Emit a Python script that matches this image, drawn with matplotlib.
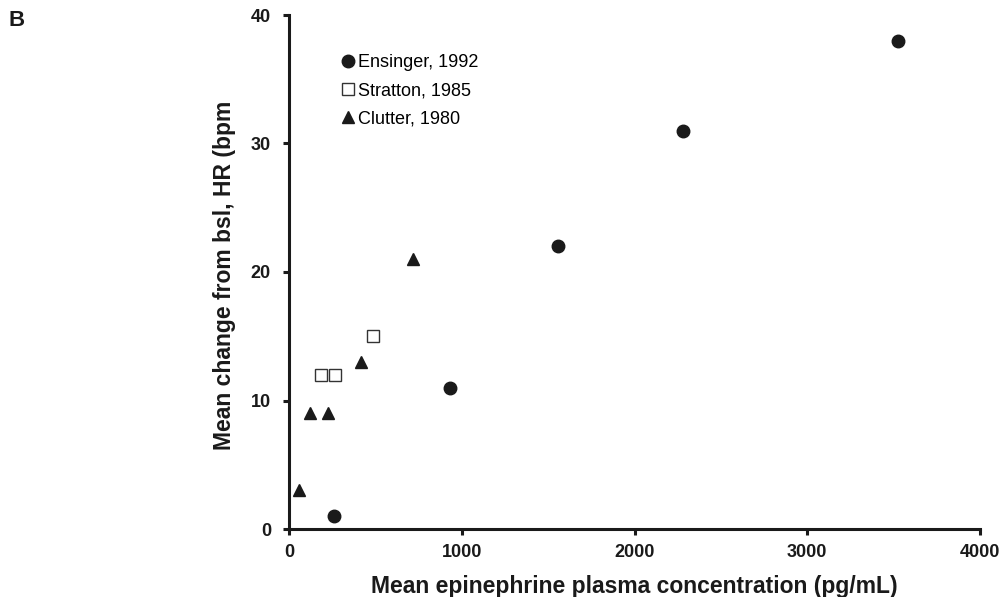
import matplotlib
matplotlib.use("Agg")
import matplotlib.pyplot as plt

plt.rcParams['font.family'] = ['Liberation Sans', 'DejaVu Sans']

# values
ensinger_x = [262, 934, 1557, 2283, 3524]
ensinger_y = [1, 11, 22, 31, 38]
stratton_x = [185, 266, 488]
stratton_y = [12, 12, 15]
clutter_x = [60, 120, 226, 417, 720]
clutter_y = [3, 9, 9, 13, 21]
labels = ["Ensinger, 1992", "Stratton, 1985", "Clutter, 1980"]

fig = plt.figure(figsize=(10.01, 5.97), dpi=100)
ax = fig.add_axes([289 / 1001, 1 - 529 / 597, (980 - 289) / 1001, (529 - 15) / 597])

ax.plot(ensinger_x, ensinger_y, 'o', color='#1a1a1a', markersize=9, label=labels[0], clip_on=False)
ax.plot(stratton_x, stratton_y, 's', markerfacecolor='white', markeredgecolor='#333333',
        markeredgewidth=1.0, markersize=8.5, label=labels[1], clip_on=False)
ax.plot(clutter_x, clutter_y, '^', color='#1a1a1a', markersize=9, label=labels[2], clip_on=False)

ax.set_xlim(0, 4000)
ax.set_ylim(0, 40)
ax.set_xticks([0, 1000, 2000, 3000, 4000])
ax.set_yticks([0, 10, 20, 30, 40])

for s in ['top', 'right']:
    ax.spines[s].set_visible(False)
for s in ['left', 'bottom']:
    ax.spines[s].set_linewidth(2.2)
    ax.spines[s].set_color('#1a1a1a')

ax.tick_params(axis='both', direction='out', length=4, width=2.2, color='#1a1a1a',
               labelsize=13)
ax.tick_params(axis='y', pad=9)
ax.tick_params(axis='x', pad=7)
for t in ax.get_xticklabels() + ax.get_yticklabels():
    t.set_fontweight('bold')
    t.set_color('#1a1a1a')

ax.set_xlabel("Mean epinephrine plasma concentration (pg/mL)", fontsize=16.5,
              fontweight='bold', color='#1a1a1a', labelpad=10)
ax.set_ylabel("Mean change from bsl, HR (bpm", fontsize=16.5,
              fontweight='bold', color='#1a1a1a')
ax.yaxis.set_label_coords(-0.077, 0.494)

leg = ax.legend(loc='upper left', bbox_to_anchor=(0.078, 0.924), frameon=False,
                fontsize=13, handlelength=0.6, handletextpad=0.25, labelspacing=0.62,
                markerscale=1.0, borderaxespad=0, borderpad=0)

fig.text(17 / 1001, 1 - 20 / 597, "B", fontsize=16, fontweight='bold',
         color='#1a1a1a', ha='center', va='center')

fig.savefig("out.png", dpi=100)
